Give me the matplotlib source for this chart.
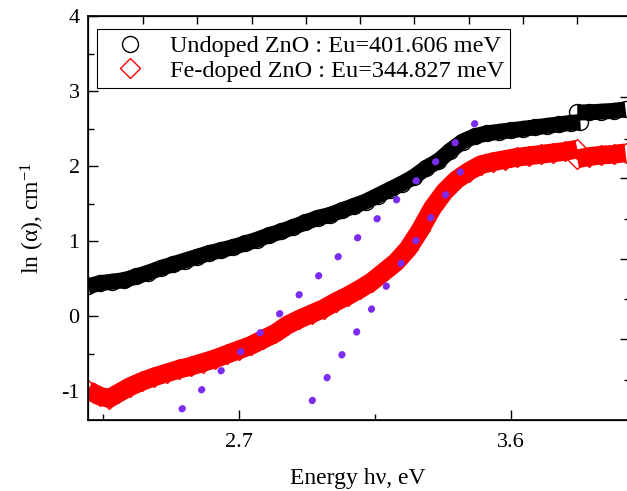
import numpy as np
import matplotlib.pyplot as plt
from matplotlib.ticker import MultipleLocator

plt.rcParams['font.family'] = ['Liberation Serif', 'DejaVu Serif']
plt.rcParams['mathtext.fontset'] = 'custom'
plt.rcParams['mathtext.rm'] = 'Liberation Serif'
plt.rcParams['mathtext.it'] = 'Liberation Serif:italic'

# undoped ZnO, ln(alpha) vs photon energy (two recorded segments)
undoped_e1 = [2.20, 2.24, 2.28, 2.32, 2.36, 2.40, 2.44, 2.48, 2.52, 2.56, 2.60, 2.64,
              2.68, 2.72, 2.76, 2.80, 2.84, 2.88, 2.92, 2.96, 3.00, 3.04, 3.08, 3.12,
              3.16, 3.20, 3.24, 3.28, 3.32, 3.36, 3.40, 3.44, 3.48, 3.52, 3.56, 3.60,
              3.64, 3.68, 3.72, 3.76, 3.80, 3.83]
undoped_a1 = [0.40, 0.44, 0.46, 0.48, 0.53, 0.58, 0.64, 0.69, 0.74, 0.79, 0.84, 0.88,
              0.92, 0.97, 1.02, 1.08, 1.13, 1.19, 1.25, 1.31, 1.35, 1.41, 1.47, 1.53,
              1.61, 1.69, 1.77, 1.86, 1.98, 2.07, 2.21, 2.33, 2.40, 2.44, 2.46, 2.48,
              2.50, 2.52, 2.54, 2.56, 2.58, 2.59]
undoped_e2 = [3.82, 3.86, 3.90, 3.94, 3.98]
undoped_a2 = [2.72, 2.72, 2.73, 2.74, 2.76]

# Fe-doped ZnO
fe_e1 = [2.20, 2.22, 2.24, 2.27, 2.30, 2.34, 2.38, 2.42, 2.46, 2.50, 2.54, 2.58,
         2.62, 2.66, 2.70, 2.74, 2.78, 2.82, 2.86, 2.90, 2.94, 2.98, 3.02, 3.06,
         3.10, 3.14, 3.18, 3.22, 3.26, 3.30, 3.34, 3.38, 3.42, 3.46, 3.50, 3.54,
         3.58, 3.62, 3.66, 3.70, 3.74, 3.78, 3.82]
fe_a1 = [-0.99, -1.03, -1.07, -1.10, -1.03, -0.94, -0.87, -0.81, -0.76, -0.71, -0.67, -0.62,
         -0.57, -0.51, -0.45, -0.39, -0.31, -0.23, -0.12, -0.04, 0.03, 0.10, 0.19, 0.27,
         0.36, 0.46, 0.59, 0.72, 0.90, 1.15, 1.44, 1.66, 1.82, 1.93, 2.02, 2.06,
         2.09, 2.12, 2.14, 2.16, 2.18, 2.20, 2.23]
fe_e2 = [3.82, 3.86, 3.90, 3.94, 3.98]
fe_a2 = [2.10, 2.13, 2.15, 2.16, 2.18]

# Urbach fit lines
fit1_e = [2.511, 3.485]
fit1_a = [-1.24, 2.587]
fit2_e = [2.942, 3.437]
fit2_a = [-1.13, 1.95]

labels = ['Undoped ZnO : Eu=401.606 meV', 'Fe-doped ZnO : Eu=344.827 meV']

fig = plt.figure(figsize=(6.27, 4.91), dpi=100)
ax = fig.add_axes([0.1404, 0.1446, 0.8612, 0.8218])

# solid bands under the dense open markers
for e, a in [(undoped_e1, undoped_a1), (undoped_e2, undoped_a2)]:
    ax.plot(e, a, color='black', lw=11.5, solid_capstyle='butt', zorder=2)
for e, a in [(fe_e1, fe_a1), (fe_e2, fe_a2)]:
    ax.plot(e, a, color='red', lw=13.5, solid_capstyle='butt', zorder=2)

ax.plot(undoped_e1 + undoped_e2, undoped_a1 + undoped_a2, ls='none', marker='o', ms=11.5,
        mfc='none', mec='black', mew=1.0, label=labels[0], zorder=3)
ax.plot(fe_e1 + fe_e2, fe_a1 + fe_a2, ls='none', marker='D', ms=10,
        mfc='none', mec='red', mew=1.0, label=labels[1], zorder=3)

for e, a in [(fit1_e, fit1_a), (fit2_e, fit2_a)]:
    ax.plot(e, a, color='#7b2cf0', lw=5, ls=(0, (0.1, 3.82)),
            dash_capstyle='round', zorder=4)

ax.set_xlim(2.2, 3.988)
ax.set_ylim(-1.387, 4.0)
ax.xaxis.set_major_locator(MultipleLocator(0.9))
ax.xaxis.set_minor_locator(MultipleLocator(0.45))
ax.yaxis.set_major_locator(MultipleLocator(1))
ax.yaxis.set_minor_locator(MultipleLocator(0.5))
ax.tick_params(which='both', direction='in', labelsize=16, width=1)
ax.tick_params(which='major', length=7)
ax.tick_params(which='minor', length=4)
ax.tick_params(axis='x', pad=9)
ax.tick_params(axis='y', pad=6)
ax.set_yticks([-1, 0, 1, 2, 3, 4])
ax.set_yticklabels(['-1', '0', '1', '2', '3', '4'])
for sp in ax.spines.values():
    sp.set_linewidth(1.2)

ax.set_xlabel('Energy h\u03bd, eV', fontsize=17, labelpad=12)
ax.set_ylabel('ln (\u03b1), cm$^{-1}$', fontsize=17, labelpad=10)

# top and right axes carry their own tick marks only
axt = ax.twiny()
axt.set_xlim(ax.get_xlim())
axt.set_xticks([2.382, 2.562, 2.742, 2.921, 3.101, 3.280, 3.460, 3.640, 3.820])
axt.set_xticklabels([])
axt.tick_params(direction='in', length=6, width=1)

axr = ax.twinx()
axr.set_ylim(ax.get_ylim())
axr.set_yticks([-0.31, 0.76, 1.84, 2.92])
axr.set_yticks([-0.85, 0.23, 1.30, 2.37], minor=True)
axr.set_yticklabels([])
axr.tick_params(which='major', direction='in', length=6, width=1)
axr.tick_params(which='minor', direction='in', length=3, width=1)

leg = ax.legend(loc='upper left', bbox_to_anchor=(0.0167, 0.969), fontsize=17.5,
                frameon=True, fancybox=False, edgecolor='black', framealpha=1,
                borderaxespad=0, borderpad=0.25, labelspacing=0.1,
                handlelength=2.2, handletextpad=0.55)
leg.get_frame().set_linewidth(0.8)

fig.savefig('out.png', dpi=100)
